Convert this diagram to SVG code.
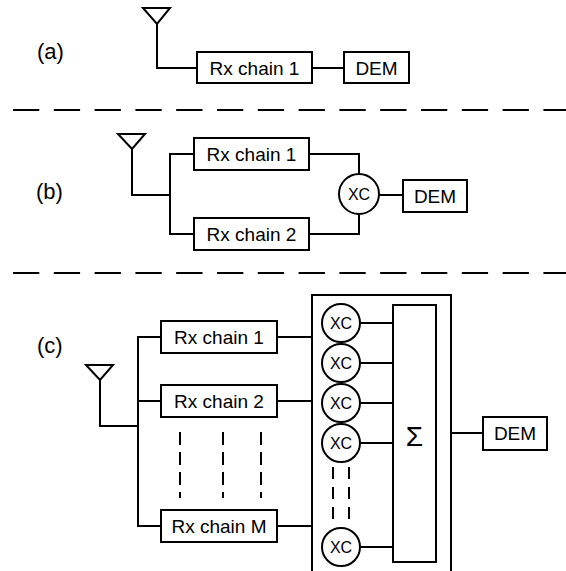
<svg xmlns="http://www.w3.org/2000/svg" width="566" height="571" viewBox="0 0 566 571">
<style>
.ln{fill:none;stroke:#000;stroke-width:2}
.bx{fill:#fff;stroke:#000;stroke-width:2}
.sep{fill:none;stroke:#000;stroke-width:2;stroke-dasharray:26.3 14.5}
.vd{fill:none;stroke:#000;stroke-width:2}
.t{font-family:"Liberation Sans",Arial,sans-serif;font-size:19px;text-anchor:middle;fill:#000}
.xc{font-family:"Liberation Sans",Arial,sans-serif;font-size:16px;text-anchor:middle;fill:#000}
.lb{font-family:"Liberation Sans",Arial,sans-serif;font-size:22px;fill:#000}
</style>
<rect width="566" height="571" fill="#fff"/>
<g id="separators">
<line class="sep" x1="13" y1="110" x2="566" y2="110"/>
<line class="sep" x1="13" y1="273" x2="566" y2="273"/>
</g>
<g id="connectors">
<!-- (a) -->
<polyline class="ln" points="157,24 157,68 197,68"/>
<line class="ln" x1="312" y1="68" x2="344" y2="68"/>
<!-- (b) -->
<polyline class="ln" points="132,149 132,195 170,195"/>
<polyline class="ln" points="194,154 170,154 170,234 194,234"/>
<polyline class="ln" points="309,154 359,154 359,174"/>
<polyline class="ln" points="309,234 359,234 359,213"/>
<line class="ln" x1="379" y1="195" x2="403" y2="195"/>
<!-- (c) -->
<polyline class="ln" points="100,380 100,426 138,426"/>
<polyline class="ln" points="161,337 138,337 138,526 161,526"/>
<line class="ln" x1="138" y1="401" x2="161" y2="401"/>
<line class="ln" x1="277" y1="337" x2="312" y2="337"/>
<line class="ln" x1="277" y1="401" x2="312" y2="401"/>
<line class="ln" x1="277" y1="526" x2="312" y2="526"/>
<line class="vd" x1="180" y1="432" x2="180" y2="498" stroke-dasharray="13 7"/>
<line class="vd" x1="223" y1="432" x2="223" y2="498" stroke-dasharray="13 7"/>
<line class="vd" x1="261" y1="432" x2="261" y2="498" stroke-dasharray="13 7"/>
<line class="ln" x1="360" y1="323" x2="393" y2="323"/>
<line class="ln" x1="360" y1="363" x2="393" y2="363"/>
<line class="ln" x1="360" y1="403" x2="393" y2="403"/>
<line class="ln" x1="360" y1="443" x2="393" y2="443"/>
<line class="ln" x1="360" y1="547" x2="393" y2="547"/>
<line class="vd" x1="333" y1="467" x2="333" y2="520" stroke-dasharray="12 8"/>
<line class="vd" x1="349" y1="467" x2="349" y2="520" stroke-dasharray="12 8"/>
<line class="ln" x1="451" y1="433" x2="483" y2="433"/>
</g>
<g id="labels">
<text class="lb" x="37" y="59">(a)</text>
<text class="lb" x="36" y="199">(b)</text>
<text class="lb" x="37" y="353">(c)</text>
</g>
<g id="a-antenna"><path class="ln" d="M143,8 L170,8 L157,24 Z"/></g>
<g id="a-rx1"><rect class="bx" x="197" y="52" width="115" height="31"/><text class="t" x="254.5" y="74.5">Rx chain 1</text></g>
<g id="a-dem"><rect class="bx" x="344" y="52" width="65" height="31"/><text class="t" x="376.5" y="74.5">DEM</text></g>
<g id="b-antenna"><path class="ln" d="M118,134 L145,134 L132,149 Z"/></g>
<g id="b-rx1"><rect class="bx" x="194" y="138" width="115" height="32"/><text class="t" x="251.5" y="161">Rx chain 1</text></g>
<g id="b-rx2"><rect class="bx" x="194" y="218" width="115" height="32"/><text class="t" x="251.5" y="241">Rx chain 2</text></g>
<g id="b-xc"><circle class="bx" cx="359" cy="194" r="20"/><text class="xc" x="359" y="200">XC</text></g>
<g id="b-dem"><rect class="bx" x="403" y="180" width="64" height="32"/><text class="t" x="435" y="203">DEM</text></g>
<g id="c-antenna"><path class="ln" d="M86,365 L113,365 L100,380 Z"/></g>
<g id="c-rx1"><rect class="bx" x="161" y="321" width="116" height="32"/><text class="t" x="219" y="344">Rx chain 1</text></g>
<g id="c-rx2"><rect class="bx" x="161" y="385" width="116" height="32"/><text class="t" x="219" y="408">Rx chain 2</text></g>
<g id="c-rxm"><rect class="bx" x="161" y="510" width="116" height="32"/><text class="t" x="219" y="533">Rx chain M</text></g>
<g id="c-combiner"><path class="ln" d="M312,575 L312,295 L451,295 L451,575"/></g>
<g id="c-xc1"><circle class="bx" cx="341" cy="323" r="19"/><text class="xc" x="341" y="329">XC</text></g>
<g id="c-xc2"><circle class="bx" cx="341" cy="363" r="19"/><text class="xc" x="341" y="369">XC</text></g>
<g id="c-xc3"><circle class="bx" cx="341" cy="403" r="19"/><text class="xc" x="341" y="409">XC</text></g>
<g id="c-xc4"><circle class="bx" cx="341" cy="443" r="19"/><text class="xc" x="341" y="449">XC</text></g>
<g id="c-xcm"><circle class="bx" cx="341" cy="547" r="19"/><text class="xc" x="341" y="553">XC</text></g>
<g id="c-sum"><rect class="bx" x="393" y="305" width="43" height="257"/><text class="t" x="414.5" y="446" style="font-size:28px">Σ</text></g>
<g id="c-dem"><rect class="bx" x="483" y="417" width="64" height="33"/><text class="t" x="515" y="440">DEM</text></g>
</svg>
